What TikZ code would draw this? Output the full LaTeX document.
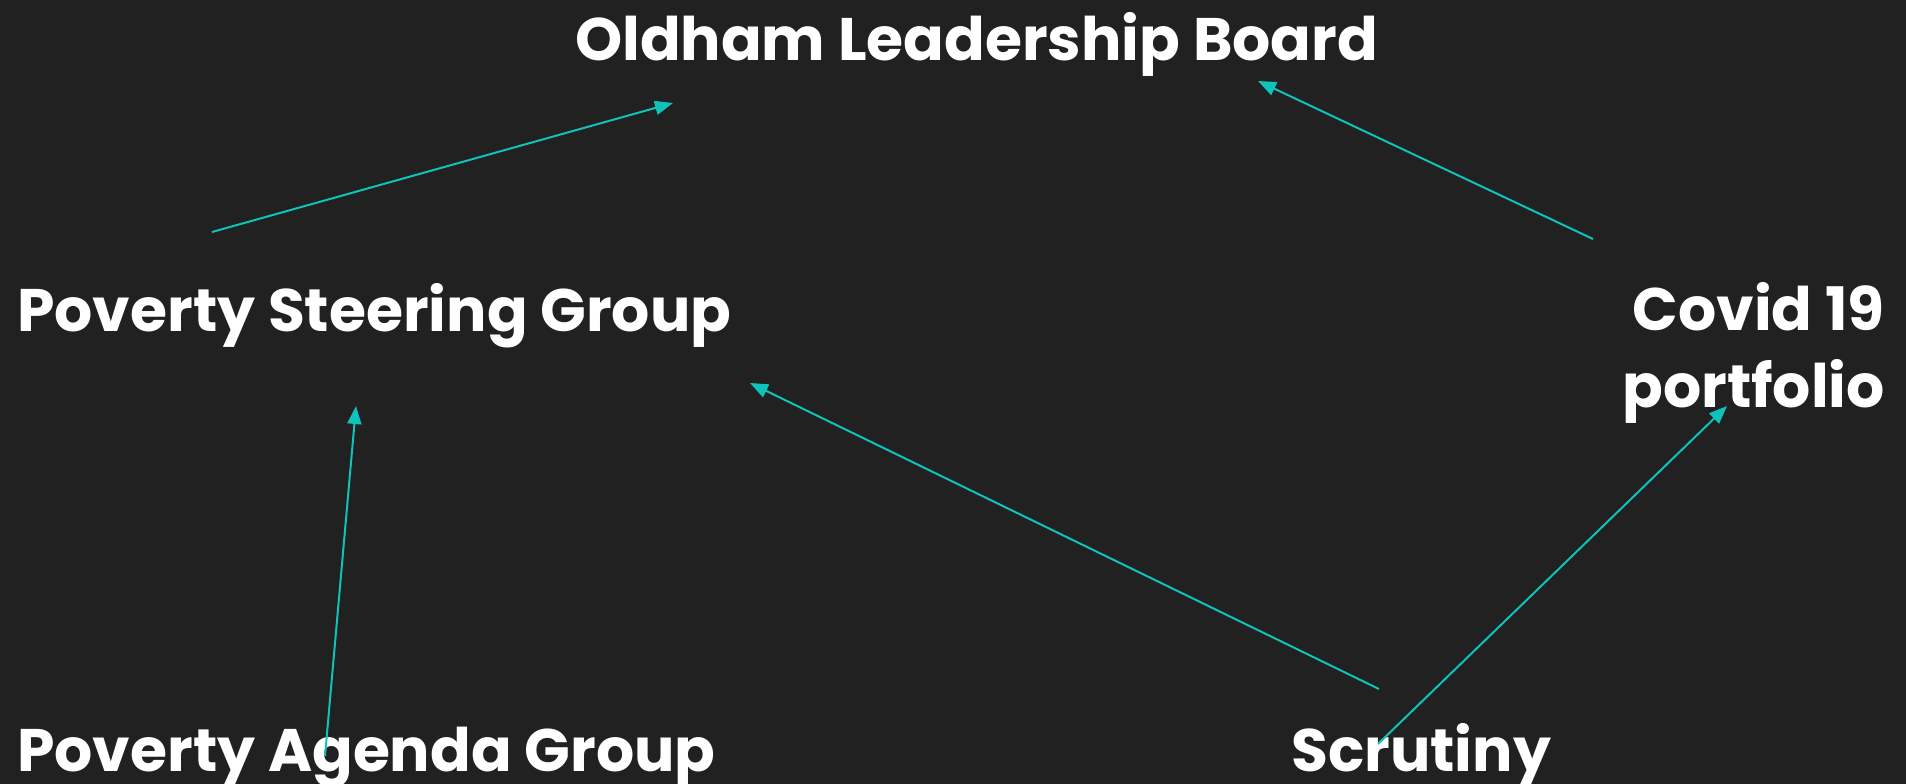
\documentclass[tikz,border=0pt]{standalone}
\usepackage{fontspec}
\setmainfont{Poppins}
\usetikzlibrary{arrows.meta}
\definecolor{bg}{HTML}{212121}
\definecolor{teal}{HTML}{0FC2BA}
\tikzset{
  lbl/.style={inner sep=0pt, text=white, font=\fontsize{60}{77}\selectfont\bfseries},
  link/.style={draw=teal, line width=2pt, -{Triangle[length=18pt,width=14pt]}}
}
\begin{document}
\begin{tikzpicture}[x=1pt,y=-1pt]
\fill[bg] (0,0) rectangle (1906,784);
\useasboundingbox (0,0) rectangle (1906,784);
\node[lbl, anchor=base west] (olb) at (575,61) {Oldham Leadership Board};
\node[lbl, anchor=base west] (psg) at (17,331) {Poverty Steering Group};
\node[lbl, anchor=base east, align=right] (covid) at (1885,407) {Covid 19\\portfolio};
\node[lbl, anchor=base west] (pag) at (17,771) {Poverty Agenda Group};
\node[lbl, anchor=base west] (scr) at (1291,771) {Scrutiny};
% connector end points
\coordinate (psg-out) at (212,232);
\coordinate (olb-inl) at (673,103);
\coordinate (cov-out) at (1593,239);
\coordinate (olb-inr) at (1258,81);
\coordinate (pag-out) at (325,756);
\coordinate (psg-in) at (356,406);
\coordinate (scr-out1) at (1379,689);
\coordinate (psg-inr) at (750,383);
\coordinate (scr-out2) at (1378,744);
\coordinate (cov-in) at (1727,406);
\draw[link] (psg-out) -- (olb-inl);
\draw[link] (cov-out) -- (olb-inr);
\draw[link] (pag-out) -- (psg-in);
\draw[link] (scr-out1) -- (psg-inr);
\draw[link] (scr-out2) -- (cov-in);
\end{tikzpicture}
\end{document}
